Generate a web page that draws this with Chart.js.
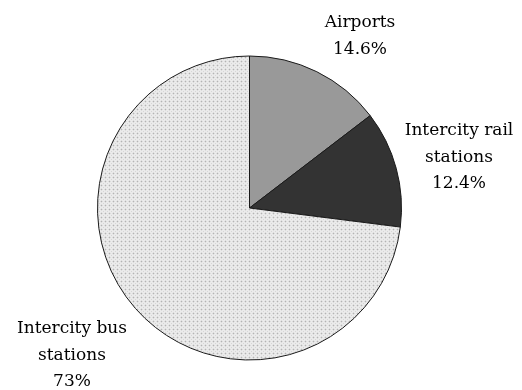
<!DOCTYPE html>
<html>
<head>
<meta charset="utf-8">
<script src="https://cdn.jsdelivr.net/npm/chart.js@4.4.1/dist/chart.umd.min.js"></script>
<style>
  html, body { margin: 0; padding: 0; background: #ffffff; }
  #wrap { width: 522px; height: 390px; }
</style>
</head>
<body>
<div id="wrap"><canvas id="pie" width="522" height="390"></canvas></div>
<script>
// Share of stations by type (percent)
const categories = ["Airports", "Intercity rail stations", "Intercity bus stations"];
const shares = [14.6, 12.4, 73];
// Label text lines for each slice (percentage appended from shares)
const labelLines = [["Airports"], ["Intercity rail", "stations"], ["Intercity bus", "stations"]];

// Fine stippled fill for the bus-station slice
function stipple() {
  const c = document.createElement("canvas");
  c.width = 4; c.height = 4;
  const g = c.getContext("2d");
  g.fillStyle = "#ebebeb";
  g.fillRect(0, 0, 4, 4);
  g.fillStyle = "#dcdcdc";
  g.fillRect(0, 1, 1, 1); g.fillRect(2, 1, 1, 1);
  g.fillRect(1, 0, 1, 1); g.fillRect(1, 2, 1, 1);
  g.fillStyle = "#b4b4b4";
  g.fillRect(1, 1, 1, 1);
  g.fillStyle = "#d6d6d6";
  g.fillRect(3, 3, 1, 1);
  return g.createPattern(c, "repeat");
}

const ctx = document.getElementById("pie").getContext("2d");

// Writes each slice's name and share beside the pie
const sliceLabels = {
  id: "sliceLabels",
  afterDraw(chart, args, opts) {
    const g = chart.ctx;
    g.save();
    g.font = opts.font;
    g.fillStyle = "#000";
    g.textAlign = "center";
    g.textBaseline = "alphabetic";
    opts.anchors.forEach((a, i) => {
      const lines = labelLines[i].concat([shares[i] + "%"]);
      lines.forEach((t, k) => g.fillText(t, a.x, a.y + k * opts.lineHeight));
    });
    g.restore();
  }
};

new Chart(ctx, {
  type: "pie",
  data: {
    labels: categories,
    datasets: [{
      data: shares,
      backgroundColor: ["#999999", "#333333", stipple()],
      borderColor: "#1a1a1a",
      borderWidth: 1,
      radius: 152
    }]
  },
  options: {
    responsive: false,
    animation: false,
    rotation: 0,
    layout: { padding: { left: 0, right: 23, top: 26, bottom: 0 } },
    plugins: {
      legend: { display: false },
      tooltip: { enabled: false },
      sliceLabels: {
        font: "17px 'DejaVu Serif', serif",
        lineHeight: 26.5,
        anchors: [{ x: 360, y: 27 }, { x: 459, y: 135 }, { x: 72, y: 333 }]
      }
    }
  },
  plugins: [sliceLabels]
});
</script>
</body>
</html>
